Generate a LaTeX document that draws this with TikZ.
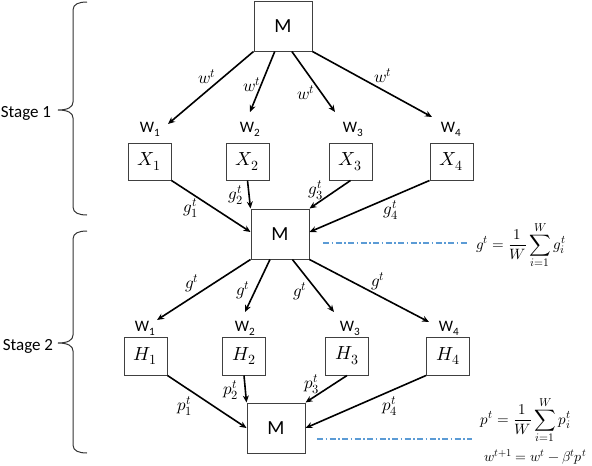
\documentclass[tikz,border=0pt]{standalone}
\usepackage{fontspec}
\usepackage{unicode-math}
\setmainfont{Carlito}
\setmathfont{Latin Modern Math}
\DeclareMathSizes{14}{14}{10.5}{8}
\DeclareMathSizes{15}{15}{11.5}{9}
\DeclareMathSizes{17}{17}{12.5}{10}
\DeclareMathSizes{19}{19}{14}{11}
\usetikzlibrary{arrows.meta,calc}
\definecolor{ddblue}{HTML}{5B9BD5}
\begin{document}
\begin{tikzpicture}[x=1pt,y=-1pt,
  box/.style={draw=black!75,line width=1pt,minimum width=43pt,minimum height=37pt,inner sep=0pt,font=\fontsize{19}{22}\selectfont},
  mbox/.style={draw=black!75,line width=1pt,minimum width=58pt,minimum height=50pt,inner sep=0pt,font=\fontsize{20}{24}\selectfont},
  wlab/.style={font=\fontsize{16}{18}\selectfont,inner sep=0pt},
  elab/.style={font=\fontsize{17}{19}\selectfont,inner sep=0pt},
  fml/.style={font=\fontsize{15}{17}\selectfont,inner sep=0pt},
  fmlsmall/.style={font=\fontsize{14}{16}\selectfont,inner sep=0pt},
  arr/.style={-{Stealth[length=7pt,width=6pt]},line width=1.6pt},
  dd/.style={draw=ddblue,line width=1.2pt,dash pattern=on 6pt off 2.5pt on 1.5pt off 2.5pt},
  bracestyle/.style={line width=1pt,black!80},
  stage/.style={font=\fontsize{17}{20}\selectfont,inner sep=0pt}]
\useasboundingbox (0,0) rectangle (592,466);

% braces
\draw[bracestyle] (87,2) .. controls (79,2) and (73,4) .. (73,10) -- (73,102)
  .. controls (73,107) and (68,110) .. (58,110) .. controls (68,110) and (73,113) .. (73,118)
  -- (73,207) .. controls (73,213) and (79,215) .. (87,215);
\draw[bracestyle] (87,231) .. controls (79,231) and (73,233) .. (73,239) -- (73,335)
  .. controls (73,340) and (68,343) .. (58,343) .. controls (68,343) and (73,346) .. (73,351)
  -- (73,445) .. controls (73,451) and (79,453) .. (87,453);
\node[stage,anchor=base] (s1) at (26,117) {Stage 1};
\node[stage,anchor=base] (s2) at (28,350) {Stage 2};

% nodes
\node[mbox] (M1) at (283,26) {M};
\node[mbox] (M2) at (280,234) {M};
\node[mbox] (M3) at (276,428) {M};

\node[box] (X1) at (149.5,161.5) {$X_1$};
\node[box] (X2) at (247.5,161.5) {$X_2$};
\node[box] (X3) at (350.5,161.5) {$X_3$};
\node[box] (X4) at (451.5,161.5) {$X_4$};
\node[box,minimum height=38pt] (H1) at (145.5,356) {$H_1$};
\node[box,minimum height=38pt] (H2) at (244,356) {$H_2$};
\node[box,minimum height=38pt] (H3) at (347,356) {$H_3$};
\node[box,minimum height=38pt] (H4) at (448,356) {$H_4$};

\node[wlab] (wa1) at (150,129) {W\textsubscript{1}};
\node[wlab] (wa2) at (250,129) {W\textsubscript{2}};
\node[wlab] (wa3) at (353,129) {W\textsubscript{3}};
\node[wlab] (wa4) at (451,129) {W\textsubscript{4}};
\node[wlab] (wb1) at (145,328) {W\textsubscript{1}};
\node[wlab] (wb2) at (245,328) {W\textsubscript{2}};
\node[wlab] (wb3) at (350,328) {W\textsubscript{3}};
\node[wlab] (wb4) at (449,328) {W\textsubscript{4}};

% arrow end points near worker labels
\coordinate (ea1) at (168,124);
\coordinate (ea2) at (250,112);
\coordinate (ea3) at (335,112);
\coordinate (ea4) at (432,117);
\coordinate (eb1) at (157,320);
\coordinate (eb2) at (245,312);
\coordinate (eb3) at (334,312);
\coordinate (eb4) at (429,322);

% stage 1 broadcast
\draw[arr] (M1.south west) -- (ea1);
\draw[arr] ($(M1.south west)!0.36!(M1.south east)$) -- (ea2);
\draw[arr] ($(M1.south west)!0.65!(M1.south east)$) -- (ea3);
\draw[arr] (M1.south east) -- (ea4);
\node[elab] (lw1) at (207,77) {$w^t$};
\node[elab] (lw2) at (252,85) {$w^t$};
\node[elab] (lw3) at (306,93) {$w^t$};
\node[elab] (lw4) at (383,76) {$w^t$};

% stage 1 gradients
\draw[arr] (X1.south east) -- ($(M2.west)+(0,-2)$);
\draw[arr] (X2.south) -- (M2.north west);
\draw[arr] (X3.south) -- (M2.north east);
\draw[arr] (X4.south west) -- ($(M2.east)+(0,-2)$);
\node[elab] (lg1) at (191,208) {$g_1^t$};
\node[elab] (lg2) at (236,195) {$g_2^t$};
\node[elab] (lg3) at (316,190) {$g_3^t$};
\node[elab] (lg4) at (391,210) {$g_4^t$};

% stage 2 broadcast
\draw[arr] (M2.south west) -- (eb1);
\draw[arr] ($(M2.south west)!0.33!(M2.south east)$) -- (eb2);
\draw[arr] ($(M2.south west)!0.71!(M2.south east)$) -- (eb3);
\draw[arr] (M2.south east) -- (eb4);
\node[elab] (lgb1) at (192,283) {$g^t$};
\node[elab] (lgb2) at (243,290) {$g^t$};
\node[elab] (lgb3) at (300,291) {$g^t$};
\node[elab] (lgb4) at (378,281) {$g^t$};

% stage 2 updates
\draw[arr] (H1.south east) -- (M3.west);
\draw[arr] (H2.south) -- (M3.north west);
\draw[arr] (H3.south) -- (M3.north east);
\draw[arr] (H4.south west) -- (M3.east);
\node[elab] (lp1) at (185,406) {$p_1^t$};
\node[elab] (lp2) at (231,390) {$p_2^t$};
\node[elab] (lp3) at (312,384) {$p_3^t$};
\node[elab] (lp4) at (390,406) {$p_4^t$};

% formulas
\node[fml] (gf) at (521,245) {$\displaystyle g^t=\frac{1}{W}\sum_{i=1}^{W} g_i^t$};
\node[fml] (pf) at (526,420) {$\displaystyle p^t=\frac{1}{W}\sum_{i=1}^{W} p_i^t$};
\node[fmlsmall,anchor=west] (wf) at (484,457) {$w^{t+1}=w^t-\beta^t p^t$};

\coordinate (d1a) at (323,243);
\coordinate (d1b) at (467,243);
\coordinate (d2a) at (317,439);
\coordinate (d2b) at (472,439);
\draw[dd] (d1a) -- (d1b);
\draw[dd] (d2a) -- (d2b);
\end{tikzpicture}
\end{document}
